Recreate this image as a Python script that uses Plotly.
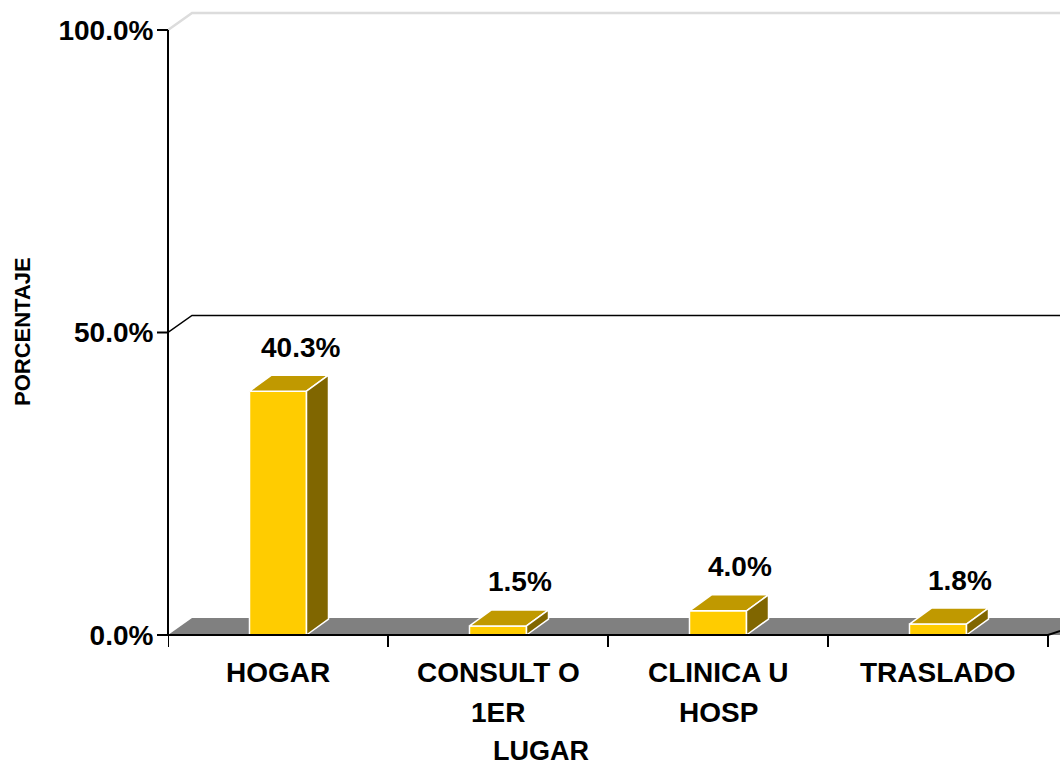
import plotly.graph_objects as go

# ---- data -------------------------------------------------------------
categories = ["HOGAR", "CONSULT O\n1ER", "CLINICA U\nHOSP", "TRASLADO"]
values = [40.3, 1.5, 4.0, 1.8]
y_tick_values = [0, 50, 100]
y_tick_labels = ["0.0%", "50.0%", "100.0%"]

# ---- geometry ---------------------------------------------------------
W, H = 1060, 767
ML, MR, MT, MB = 168, 0, 5, 112
PLOT_W = W - ML - MR
PLOT_H = H - MT - MB
PX_PER_CAT = 220.0          # pixels per category slot
PX_PER_PCT = 6.05           # pixels per percentage point
X_RANGE = [-0.5, -0.5 + PLOT_W / PX_PER_CAT]
Y_RANGE = [-20 / PX_PER_PCT, (PLOT_H - 20) / PX_PER_PCT]

def dx(px):
    return px / PX_PER_CAT

def dy(px):
    return px / PX_PER_PCT

WALL_DX, WALL_DY = dx(24), dy(17)     # depth of floor / back wall
BAR_DX, BAR_DY = dx(22), dy(16)       # depth of each box
BAR_W = 57 / PX_PER_CAT

FONT = "Liberation Sans, Arial, sans-serif"
FRONT, TOP, SIDE = "#FFCC00", "#C09900", "#806600"
FLOOR = "#808080"

positions = list(range(len(categories)))
x_left, x_right = positions[0] - 0.5, positions[-1] + 0.5

fig = go.Figure()

# front faces of the boxes
fig.add_trace(go.Bar(
    x=positions, y=values, width=BAR_W,
    marker=dict(color=FRONT, line=dict(color="white", width=1.5)),
    hoverinfo="skip", showlegend=False,
))

# top and side faces
for xi, v in zip(positions, values):
    x0, x1 = xi - BAR_W / 2, xi + BAR_W / 2
    fig.add_trace(go.Scatter(
        x=[x0, x1, x1 + BAR_DX, x0 + BAR_DX, x0],
        y=[v, v, v + BAR_DY, v + BAR_DY, v],
        mode="lines", fill="toself", fillcolor=TOP,
        line=dict(color="white", width=1.5),
        hoverinfo="skip", showlegend=False,
    ))
    fig.add_trace(go.Scatter(
        x=[x1, x1 + BAR_DX, x1 + BAR_DX, x1, x1],
        y=[0, BAR_DY, v + BAR_DY, v, 0],
        mode="lines", fill="toself", fillcolor=SIDE,
        line=dict(color="white", width=1.5),
        hoverinfo="skip", showlegend=False,
    ))

shapes = []
# floor
shapes.append(dict(
    type="path", xref="x", yref="y", layer="below",
    path=(f"M {x_left},0 L {x_right + 1},0 L {x_right + 1},{WALL_DY} "
          f"L {x_left + WALL_DX},{WALL_DY} Z"),
    fillcolor=FLOOR, line=dict(width=0),
))
# back-wall gridlines
for t in y_tick_values[1:]:
    colr = "black" if t < max(y_tick_values) else "#dcdcdc"
    wid = 1.5 if t < max(y_tick_values) else 2.5
    shapes.append(dict(
        type="path", xref="x", yref="y", layer="below",
        path=(f"M {x_left},{t} L {x_left + WALL_DX},{t + WALL_DY} "
              f"L {x_right + 1},{t + WALL_DY}"),
        line=dict(color=colr, width=wid),
    ))
# value axis line and its tick marks
shapes.append(dict(
    type="line", xref="paper", yref="y", x0=0, x1=0,
    y0=0, y1=max(y_tick_values), line=dict(color="black", width=2),
))
for t in y_tick_values:
    shapes.append(dict(
        type="line", xref="paper", yref="y", x0=-11 / PLOT_W, x1=0,
        y0=t, y1=t, line=dict(color="black", width=2),
    ))
# category axis line with depth edge at the far end
shapes.append(dict(
    type="path", xref="x", yref="y", layer="above",
    path=(f"M {x_left},0 L {x_right},0 "
          f"L {x_right + WALL_DX},{WALL_DY * 0.47}"),
    line=dict(color="black", width=2),
))
# category boundary ticks
for k in range(len(categories) + 1):
    xb = x_left + k
    shapes.append(dict(
        type="line", xref="x", yref="y", layer="above",
        x0=xb, x1=xb, y0=0, y1=-dy(12),
        line=dict(color="black", width=2),
    ))

annotations = []
# data labels
for xi, v in zip(positions, values):
    annotations.append(dict(
        x=xi + BAR_DX, y=v + BAR_DY, xref="x", yref="y",
        text=f"{v:.1f}%", showarrow=False, yanchor="middle", yshift=28,
        font=dict(family=FONT, size=28, color="black", weight="bold"),
    ))
# category labels, one annotation per line
for xi, cat in zip(positions, categories):
    for li, line in enumerate(cat.split("\n")):
        annotations.append(dict(
            x=xi, y=0, xref="x", yref="y", text=line, showarrow=False,
            yanchor="middle", yshift=-(37 + 40 * li),
            font=dict(family=FONT, size=28, color="black", weight="bold"),
        ))

def paper_x(px):
    return (px - ML) / PLOT_W

def paper_y(py):
    return (H - MB - py) / PLOT_H

annotations.append(dict(
    x=paper_x(541), y=paper_y(751), xref="paper", yref="paper",
    text="LUGAR", showarrow=False, xanchor="center", yanchor="middle",
    font=dict(family=FONT, size=27, color="black", weight="bold"),
))
annotations.append(dict(
    x=paper_x(22), y=paper_y(332), xref="paper", yref="paper",
    text="PORCENTAJE", showarrow=False, textangle=-90,
    xanchor="center", yanchor="middle",
    font=dict(family=FONT, size=22, color="black", weight="bold"),
))

fig.update_layout(
    width=W, height=H,
    margin=dict(l=ML, r=MR, t=MT, b=MB, pad=0),
    paper_bgcolor="white", plot_bgcolor="white",
    showlegend=False,
    shapes=shapes, annotations=annotations,
    xaxis=dict(range=X_RANGE, showgrid=False, zeroline=False,
               showline=False, showticklabels=False, ticks=""),
    yaxis=dict(range=Y_RANGE, showgrid=False, zeroline=False,
               showline=False, tickvals=y_tick_values,
               ticktext=y_tick_labels, ticks="outside", ticklen=8,
               tickwidth=0, tickcolor="rgba(0,0,0,0)",
               tickfont=dict(family=FONT, size=28, color="black",
                             weight="bold")),
)

fig.write_html("out.html")
